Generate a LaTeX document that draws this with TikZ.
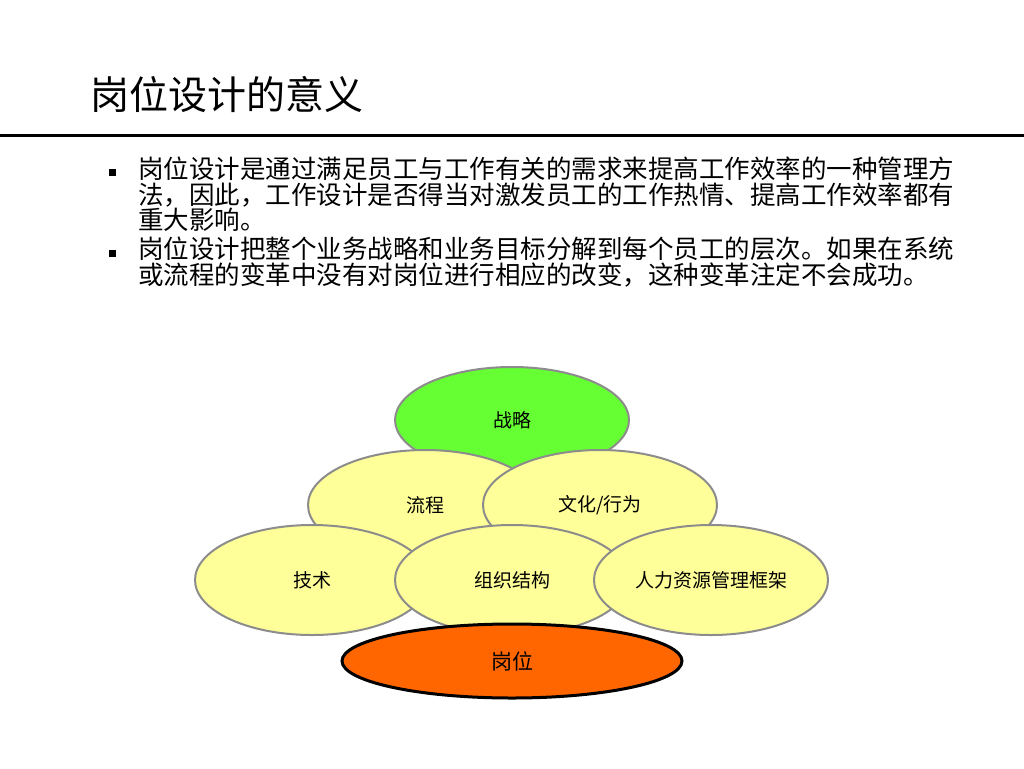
\documentclass[tikz,border=0pt]{standalone}
\usepackage{fontspec}
\setmainfont{Noto Sans CJK SC}
\usetikzlibrary{shapes.geometric}

\definecolor{leafgreen}{HTML}{66FF33}
\definecolor{paleyellow}{HTML}{FFFF99}
\definecolor{rimgray}{HTML}{8C8C8C}
\definecolor{deeporange}{HTML}{FF6600}

\tikzset{
  layer/.style={ellipse, draw=rimgray, line width=2pt, fill=paleyellow,
    minimum width=234pt, minimum height=110pt, inner sep=0pt,
    font=\fontsize{19}{19}\selectfont},
  bulletbox/.style={fill=black, minimum size=7pt, inner sep=0pt},
  bodytext/.style={anchor=north west, inner sep=0pt, align=left,
    font=\fontsize{25.5}{25.5}\selectfont}
}

\begin{document}
\begin{tikzpicture}[x=1pt,y=-1pt]
\useasboundingbox[fill=white] (0,0) rectangle (1024,768);

% Titel

\node[anchor=west, inner sep=0pt, font=\fontsize{39}{39}\selectfont] (title) at (90,95) {岗位设计的意义};
\coordinate (rulel) at (0,135);
\coordinate (ruler) at (1024,135);
\draw[line width=3pt] (rulel) -- (ruler);

% Punkte

\node[bulletbox] (b1) at (112,172) {};
\node[bodytext] (t1) at (138,157) {岗位设计是通过满足员工与工作有关的需求来提高工作效率的一种管理方\\法，因此，工作设计是否得当对激发员工的工作热情、提高工作效率都有\\重大影响。};
\node[bulletbox] (b2) at (112,253) {};
\node[bodytext] (t2) at (138,237) {岗位设计把整个业务战略和业务目标分解到每个员工的层次。如果在系统\\或流程的变革中没有对岗位进行相应的改变，这种变革注定不会成功。};

% Ellipsen

\node[layer, fill=leafgreen, minimum height=106pt] (strat) at (512,420) {战略};
\node[layer] (proc) at (425,505) {流程};
\node[layer] (cult) at (600,505) {文化/行为};
\node[layer] (tech) at (312,580) {技术};
\node[layer] (org) at (512,580) {组织结构};
\node[layer] (hr) at (711,580) {人力资源管理框架};
\node[layer, draw=black, line width=3pt, fill=deeporange, minimum width=340pt,
  minimum height=74pt, font=\fontsize{21}{21}\selectfont] (post) at (512,661) {岗位};

\end{tikzpicture}
\end{document}
